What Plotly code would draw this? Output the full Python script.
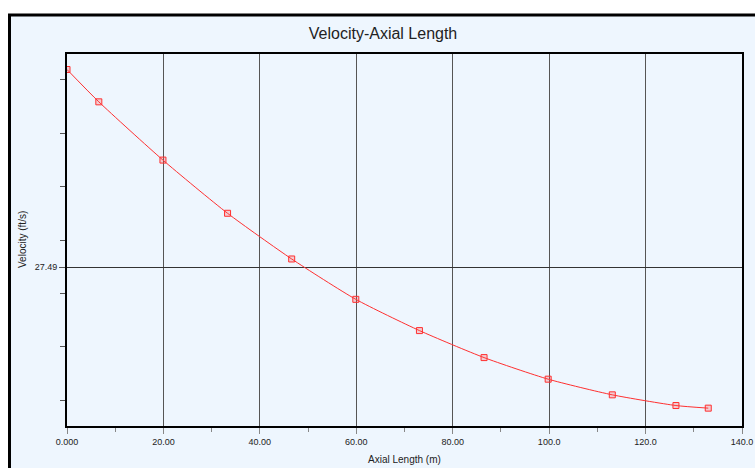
import plotly.graph_objects as go

# Data
axial_length = [0.0, 6.6, 19.9, 33.3, 46.6, 59.9, 73.1, 86.5, 99.8, 113.1, 126.3, 133.0]
velocity = [31.19, 30.585, 29.495, 28.50, 27.645, 26.89, 26.305, 25.80, 25.396, 25.103, 24.903, 24.854]

x_ticks = [0, 20, 40, 60, 80, 100, 120, 140]
x_tick_labels = ["0.000", "20.00", "40.00", "60.00", "80.00", "100.0", "120.0", "140.0"]
y_ticks = [27.49]
y_tick_labels = ["27.49"]
y_minor_ticks = [25, 26, 27, 28, 29, 30, 31]

W, H = 755, 468
# plot area in page pixels: (67,54)-(742,426)
L, T = 67, 54
R, B = W - 742, H - 426
pw, ph = W - L - R, H - T - B
BG = "#EEF6FE"
FONT = "Liberation Sans, Arial, sans-serif"

def px_x(p):  # page pixel -> paper x
    return (p - L) / pw

def px_y(p):  # page pixel -> paper y
    return (H - B - p) / ph

fig = go.Figure()
fig.add_trace(go.Scatter(
    x=axial_length, y=velocity, mode="lines+markers",
    line=dict(color="#FF3030", width=1, shape="spline", smoothing=0.6),
    marker=dict(symbol="square", size=6, color="rgba(255,80,80,0.25)",
                line=dict(color="#FF3030", width=1)),
    showlegend=False, hoverinfo="x+y",
))

fig.add_shape(type="rect", xref="paper", yref="paper",
              x0=px_x(9.5), x1=px_x(770), y0=px_y(480), y1=px_y(15),
              fillcolor=BG, line=dict(color="black", width=3), layer="below")

fig.update_layout(
    width=W, height=H,
    margin=dict(l=L, r=R, t=T, b=B, autoexpand=False),
    paper_bgcolor="white", plot_bgcolor=BG,
    font=dict(family=FONT, color="#222222"),
    title=dict(text="Velocity-Axial Length", x=383 / W, xanchor="center",
               y=1 - 33 / H, yanchor="middle", font=dict(size=16, color="#222222")),
    xaxis=dict(range=[0, 140], tickvals=x_ticks, ticktext=x_tick_labels,
               automargin=False,
               ticks="outside", ticklen=6, tickcolor="#888888",
               tickfont=dict(size=9, color="#222222"),
               showgrid=True, gridcolor="#555555", gridwidth=1,
               showline=True, linecolor="black", linewidth=2, mirror=True,
               zeroline=False,
               minor=dict(dtick=10, tick0=0, ticks="outside", ticklen=4,
                          tickcolor="#888888", showgrid=False)),
    yaxis=dict(range=[24.52, 31.48], tickvals=y_ticks, ticktext=y_tick_labels,
               automargin=False,
               ticks="outside", ticklen=6, tickcolor="#555555",
               tickfont=dict(size=9, color="#222222"),
               showgrid=True, gridcolor="#333333", gridwidth=1,
               showline=True, linecolor="black", linewidth=2, mirror=True,
               zeroline=False,
               minor=dict(tickvals=y_minor_ticks, ticks="outside", ticklen=5,
                          tickcolor="#555555", showgrid=False)),
    annotations=[
        dict(text="Axial Length (m)", xref="paper", yref="paper",
             x=px_x(404), y=px_y(460), xanchor="center", yanchor="middle",
             showarrow=False, font=dict(size=10, color="#222222")),
        dict(text="Velocity (ft/s)", xref="paper", yref="paper",
             x=px_x(22), y=px_y(240), xanchor="center", yanchor="middle",
             textangle=-90, showarrow=False, font=dict(size=10, color="#222222")),
    ],
)

fig.write_html(
    "out.html",
    config={"displayModeBar": False},
    post_script="document.body.style.margin='0';document.body.style.overflow='hidden';",
)
